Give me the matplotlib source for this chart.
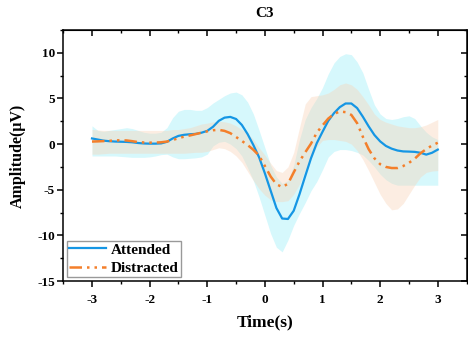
import numpy as np
import matplotlib
matplotlib.use("Agg")
import matplotlib.pyplot as plt
from matplotlib.ticker import MultipleLocator

plt.rcParams["font.family"] = ["Liberation Serif", "DejaVu Serif"]
plt.rcParams["font.weight"] = "bold"
plt.rcParams["axes.unicode_minus"] = False

# time grid of the averaged ERP (s)
t = np.linspace(-3, 3, 61)

att_mean = [0.62, 0.50, 0.38, 0.32, 0.28, 0.26, 0.24, 0.20, 0.12, 0.07,
            0.05, 0.05, 0.08, 0.25, 0.62, 0.90, 1.02, 1.08, 1.12, 1.25,
            1.45, 1.90, 2.55, 2.90, 2.98, 2.75, 2.10, 1.10, -0.10, -1.45,
            -3.20, -5.10, -7.00, -8.15, -8.20, -7.30, -5.50, -3.50, -1.55, 0.10,
            1.35, 2.55, 3.40, 4.05, 4.45, 4.45, 3.95, 3.00, 1.95, 1.00,
            0.30, -0.20, -0.50, -0.70, -0.80, -0.82, -0.85, -0.95, -1.15, -0.95,
            -0.60]
att_hi = [2.0, 1.5, 1.4, 1.5, 1.6, 1.7, 1.8, 1.7, 1.5, 1.3,
          1.2, 1.2, 1.3, 1.8, 2.9, 3.6, 3.8, 3.8, 3.7, 3.7,
          4.0, 4.5, 4.9, 5.3, 5.6, 5.7, 5.4, 4.6, 3.3, 1.5,
          -0.4, -2.3, -3.6, -4.3, -4.0, -2.3, 0.5, 2.7, 4.0, 5.0,
          6.2, 7.7, 8.9, 9.6, 9.9, 9.8, 9.0, 7.8, 6.0, 4.3,
          3.3, 2.8, 2.7, 2.8, 3.0, 3.1, 2.8, 2.0, 1.3, 0.8,
          0.5]
att_lo = [-1.3, -1.3, -1.3, -1.3, -1.3, -1.35, -1.4, -1.45, -1.45, -1.45,
          -1.4, -1.3, -1.15, -1.1, -1.4, -1.6, -1.6, -1.55, -1.5, -1.4,
          -1.1, -0.2, 0.2, 0.3, 0.0, -0.5, -1.3, -2.6, -4.0, -5.8,
          -7.8, -9.8, -11.3, -11.8, -10.5, -8.9, -7.6, -6.4, -5.1, -4.1,
          -2.8, -1.4, -0.8, -0.6, -0.6, -0.7, -0.9, -1.2, -1.8, -2.5,
          -3.3, -3.9, -4.3, -4.5, -4.5, -4.5, -4.5, -4.5, -4.5, -4.5,
          -4.5]

dis_mean = [0.28, 0.30, 0.33, 0.36, 0.40, 0.42, 0.40, 0.32, 0.22, 0.18,
            0.16, 0.17, 0.20, 0.28, 0.45, 0.65, 0.82, 0.95, 1.10, 1.25,
            1.40, 1.52, 1.56, 1.45, 1.20, 0.78, 0.35, -0.10, -0.62, -1.27,
            -2.40, -3.55, -4.40, -4.70, -4.35, -3.10, -1.90, -0.90, 0.05, 1.25,
            2.05, 2.80, 3.30, 3.58, 3.50, 3.20, 2.30, 0.80, -0.55, -1.55,
            -2.20, -2.50, -2.62, -2.62, -2.40, -2.05, -1.60, -1.00, -0.55, -0.15,
            0.15]
dis_hi = [1.6, 1.55, 1.5, 1.5, 1.5, 1.5, 1.5, 1.5, 1.5, 1.5,
          1.5, 1.5, 1.5, 1.5, 1.6, 1.6, 1.7, 1.8, 2.0, 2.2,
          2.3, 2.45, 2.5, 2.45, 2.3, 2.0, 1.6, 1.2, 0.5, -0.4,
          -1.2, -2.1, -2.9, -3.1, -2.5, -0.9, 1.8, 4.4, 5.2, 5.3,
          5.4, 5.6, 6.0, 6.5, 6.7, 6.5, 6.0, 5.2, 4.3, 3.3,
          2.7, 2.4, 2.2, 2.0, 1.9, 1.8, 1.8, 1.9, 2.1, 2.4,
          2.7]
dis_lo = [-1.1, -1.1, -1.05, -1.0, -1.0, -1.0, -1.0, -1.0, -1.0, -1.0,
          -1.0, -1.0, -1.0, -1.0, -1.0, -1.0, -1.0, -0.95, -0.9, -0.9,
          -0.8, -0.6, -0.4, -0.5, -0.8, -1.3, -2.0, -3.0, -4.0, -4.9,
          -5.6, -6.1, -6.3, -6.3, -6.2, -5.5, -4.4, -2.8, -1.5, -0.3,
          0.4, 0.5, 0.5, 0.4, 0.3, 0.0, -0.7, -1.7, -2.9, -4.2,
          -5.5, -6.5, -7.2, -7.1, -6.5, -5.5, -4.5, -3.6, -3.1, -2.95,
          -2.9]

blue = "#1596e4"
orange = "#f47f2a"

fig = plt.figure(figsize=(4.68, 3.37), dpi=100)
ax = fig.add_axes([0.135, 0.166, 0.862, 0.745])

ax.fill_between(t, att_lo, att_hi, color="#d6f8fc", lw=0)
ax.plot(t, att_mean, color=blue, lw=1.6, label="Attended")
ax.fill_between(t, dis_lo, dis_hi, color="#f9d4b8", alpha=0.4, lw=0)
ax.plot(t, dis_mean, color=orange, lw=1.8, ls=(0, (5, 2, 1, 2, 1, 2)),
        label="Distracted")

ax.set_xlim(-3.5, 3.5)
ax.set_ylim(-15, 12.5)
ax.xaxis.set_major_locator(MultipleLocator(1))
ax.xaxis.set_minor_locator(MultipleLocator(0.5))
ax.yaxis.set_major_locator(MultipleLocator(5))
ax.yaxis.set_minor_locator(MultipleLocator(2.5))
ax.tick_params(which="major", direction="out", length=4, width=1.1,
               labelsize=9.5, pad=2)
ax.tick_params(which="minor", direction="out", length=2.5, width=1.0)
ax.tick_params(axis="x", pad=5)
for lab in ax.get_xticklabels() + ax.get_yticklabels():
    lab.set_fontweight("bold")
for s in ax.spines.values():
    s.set_linewidth(1.1)

# mirrored ticks on top and right, pointing inward, no labels
top = ax.secondary_xaxis("top")
top.xaxis.set_major_locator(MultipleLocator(1))
top.xaxis.set_minor_locator(MultipleLocator(0.5))
top.tick_params(which="major", direction="in", length=4, width=1.1, labeltop=False)
top.tick_params(which="minor", direction="in", length=2.5, width=1.0)
right = ax.secondary_yaxis("right")
right.yaxis.set_major_locator(MultipleLocator(5))
right.yaxis.set_minor_locator(MultipleLocator(2.5))
right.tick_params(which="major", direction="in", length=4, width=1.1, labelright=False)
right.tick_params(which="minor", direction="in", length=2.5, width=1.0)

ax.set_title("C3", fontsize=11, fontweight="bold", pad=9)
ax.set_xlabel("Time(s)", fontsize=12.5, fontweight="bold", labelpad=6)
ax.set_ylabel("Amplitude(μV)", fontsize=11.5, fontweight="bold", labelpad=8)

leg = ax.legend(loc="lower left", fontsize=11, frameon=True, fancybox=False,
                borderaxespad=0.25, handlelength=2.4, handletextpad=0.3,
                labelspacing=0.3, borderpad=0.15)
leg.get_frame().set_edgecolor("#808080")
leg.get_frame().set_linewidth(1.0)
for txt in leg.get_texts():
    txt.set_fontweight("bold")

fig.savefig("out.png", dpi=100)
